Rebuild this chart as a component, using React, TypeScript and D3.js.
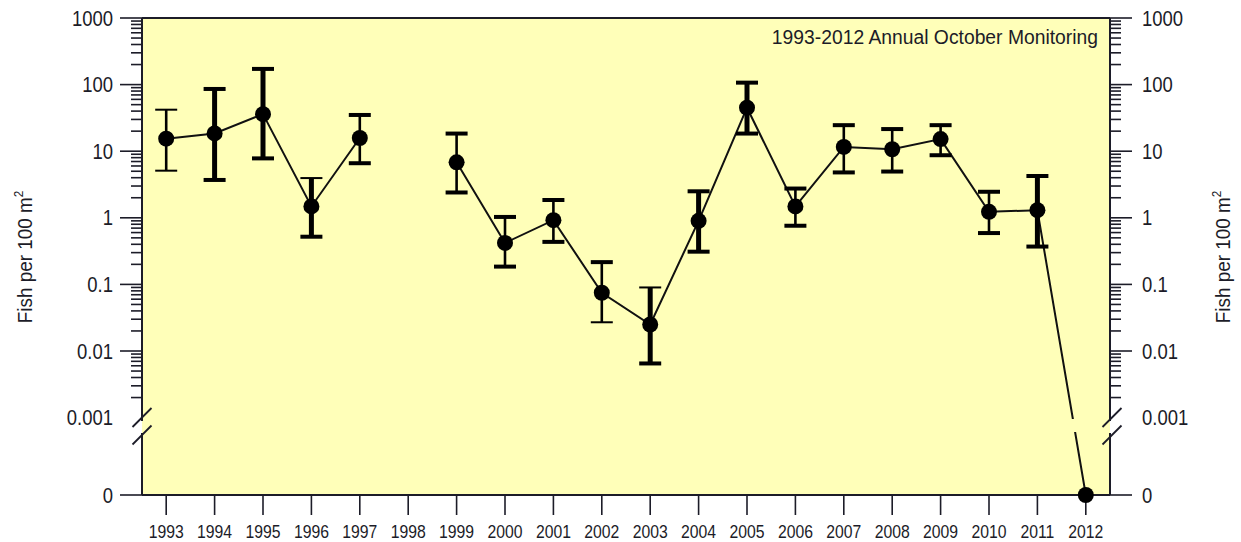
import React from "react";
import * as d3 from "d3";

const years = [1993, 1994, 1995, 1996, 1997, 1998, 1999, 2000, 2001, 2002, 2003, 2004, 2005, 2006, 2007, 2008, 2009, 2010, 2011, 2012];
const means: (number | null)[] = [15.4, 18.5, 36, 1.48, 15.8, null, 6.8, 0.42, 0.92, 0.075, 0.025, 0.9, 45, 1.48, 11.6, 10.7, 15.2, 1.23, 1.3, 0];
const upper: (number | null)[] = [42, 86, 172, 3.95, 35, null, 18.4, 1.03, 1.85, 0.216, 0.09, 2.5, 107, 2.75, 24.6, 21.5, 24.6, 2.46, 4.24, null];
const lower: (number | null)[] = [5.1, 3.7, 7.8, 0.52, 6.6, null, 2.4, 0.185, 0.435, 0.027, 0.0065, 0.31, 18.4, 0.76, 4.8, 4.95, 8.7, 0.59, 0.37, null];

const yTickValues = [1000, 100, 10, 1, 0.1, 0.01];
const yTickLabels = ["1000", "100", "10", "1", "0.1", "0.01"];
const breakLabel = "0.001";
const zeroLabel = "0";
const heavyStems = [1994, 1995, 1996, 2003, 2004, 2005, 2011];
const lightTopCaps = [1993, 1996, 2003];
const lightBottomCaps = [1993, 2002];
const title = "1993-2012 Annual October Monitoring";
const yAxisTitle = "Fish per 100 m";

const FONT = "'Liberation Sans', Arial, sans-serif";
const INK = "#1c1c28";

function T(props: {
  x: number; y: number; sx: number; rot?: number; size: number;
  anchor?: string; baseline?: string; children: React.ReactNode;
}) {
  const { x, y, sx, rot = 0, size, anchor = "start", baseline, children } = props;
  return (
    <text
      transform={`translate(${x},${y}) rotate(${rot}) scale(${sx},1)`}
      fontFamily={FONT}
      fontSize={size}
      fill={INK}
      textAnchor={anchor}
      dominantBaseline={baseline}
    >
      {children}
    </text>
  );
}

export default function App() {
  const W = 1241, H = 542;
  const left = 142, right = 1110, top = 18, zeroY = 495;
  const breakTop = 421, breakBot = 433;

  const x = d3.scalePoint<number>().domain(years).range([left, right]).padding(0.5);
  const y = d3.scaleLog().domain([0.001, 1000]).range([417.6, top]);
  const yv = (v: number) => (v === 0 ? zeroY : y(v));

  const minorTicks: number[] = [];
  for (const d of [0.001, 0.01, 0.1, 1, 10, 100]) {
    for (let k = 2; k <= 9; k++) minorTicks.push(d * k);
  }

  const pts = years.map((yr, i) => ({ yr, m: means[i], hi: upper[i], lo: lower[i] }));
  const line = d3
    .line<{ yr: number; m: number | null }>()
    .defined((d) => d.m !== null)
    .x((d) => x(d.yr) as number)
    .y((d) => yv(d.m as number));

  const slash = (cx: number, cy: number) => (
    <line x1={cx - 9.5} y1={cy + 9.5} x2={cx + 9.5} y2={cy - 9.5} stroke={INK} strokeWidth={1.8} />
  );

  const ySX = 0.84;

  return (
    <svg width={W} height={H} style={{ position: "absolute", left: 0, top: 0, background: "#fff" }}>
      <defs>
        <clipPath id="brk">
          <rect x={0} y={0} width={W} height={419} />
          <rect x={0} y={432} width={W} height={H - 432} />
        </clipPath>
      </defs>
      <rect x={left} y={top} width={right - left} height={zeroY - top} fill="#FFFFB9" />

      {/* frame */}
      <g stroke={INK} strokeWidth={2} fill="none">
        <line x1={left} y1={top} x2={right} y2={top} />
        <line x1={left} y1={zeroY} x2={right} y2={zeroY} />
        <line x1={left} y1={top} x2={left} y2={breakTop} />
        <line x1={left} y1={breakBot} x2={left} y2={zeroY} />
        <line x1={right} y1={top} x2={right} y2={breakTop} />
        <line x1={right} y1={breakBot} x2={right} y2={zeroY} />
      </g>

      {/* y ticks */}
      <g stroke={INK} strokeWidth={1.6}>
        {yTickValues.map((v) => (
          <g key={"M" + v}>
            <line x1={left - 22} x2={left} y1={y(v)} y2={y(v)} />
            <line x1={right} x2={right + 22} y1={y(v)} y2={y(v)} />
          </g>
        ))}
        <line x1={left - 22} x2={left} y1={zeroY} y2={zeroY} />
        <line x1={right} x2={right + 22} y1={zeroY} y2={zeroY} />
        {minorTicks.map((v) => (
          <g key={"m" + v}>
            <line x1={left - 11} x2={left} y1={y(v)} y2={y(v)} />
            <line x1={right} x2={right + 11} y1={y(v)} y2={y(v)} />
          </g>
        ))}
      </g>

      {/* axis breaks */}
      {slash(left, 417.5)}
      {slash(left, 435)}
      {slash(right + 2, 417.5)}
      {slash(right + 2, 435)}

      {/* y labels */}
      {yTickValues.map((v, i) => (
        <g key={"L" + v}>
          <T x={113} y={y(v)} sx={ySX} size={22} anchor="end" baseline="central">{yTickLabels[i]}</T>
          <T x={1142} y={y(v)} sx={ySX} size={22} anchor="start" baseline="central">{yTickLabels[i]}</T>
        </g>
      ))}
      <T x={113} y={y(0.001)} sx={ySX} size={22} anchor="end" baseline="central">{breakLabel}</T>
      <T x={1142} y={y(0.001)} sx={ySX} size={22} anchor="start" baseline="central">{breakLabel}</T>
      <T x={113} y={zeroY} sx={ySX} size={22} anchor="end" baseline="central">{zeroLabel}</T>
      <T x={1142} y={zeroY} sx={ySX} size={22} anchor="start" baseline="central">{zeroLabel}</T>

      {/* x ticks and labels */}
      <g stroke={INK} strokeWidth={1.6}>
        {years.map((yr) => (
          <line key={"xt" + yr} x1={x(yr)} x2={x(yr)} y1={zeroY} y2={zeroY + 20} />
        ))}
      </g>
      {years.map((yr) => (
        <T key={"xl" + yr} x={x(yr) as number} y={538} sx={0.83} size={19} anchor="middle">{yr}</T>
      ))}

      {/* axis titles */}
      <T x={32} y={257} rot={-90} sx={0.9} size={21} anchor="middle">
        {yAxisTitle}
        <tspan fontSize={13} dy={-9}>2</tspan>
      </T>
      <T x={1230} y={257} rot={-90} sx={0.9} size={21} anchor="middle">
        {yAxisTitle}
        <tspan fontSize={13} dy={-9}>2</tspan>
      </T>

      {/* title */}
      <T x={1098} y={44} sx={0.92} size={21} anchor="end">{title}</T>

      {/* data line */}
      <path d={line(pts) || ""} fill="none" stroke="#111" strokeWidth={2} clipPath="url(#brk)" />

      {/* error bars */}
      <g stroke="#000" fill="none">
        {pts
          .filter((p) => p.hi !== null && p.lo !== null)
          .map((p) => {
            const cx = x(p.yr) as number;
            const yh = y(p.hi as number), yl = y(p.lo as number);
            const sw = heavyStems.includes(p.yr) ? 5 : 2.6;
            const tw = lightTopCaps.includes(p.yr) ? 2 : 4;
            const bw = lightBottomCaps.includes(p.yr) ? 2 : 4;
            return (
              <g key={"eb" + p.yr}>
                <line x1={cx} x2={cx} y1={yh} y2={yl} strokeWidth={sw} />
                <line x1={cx - 11} x2={cx + 11} y1={yh} y2={yh} strokeWidth={tw} />
                <line x1={cx - 11} x2={cx + 11} y1={yl} y2={yl} strokeWidth={bw} />
              </g>
            );
          })}
      </g>

      {/* points */}
      <g fill="#000">
        {pts
          .filter((p) => p.m !== null)
          .map((p) => (
            <circle key={"pt" + p.yr} cx={x(p.yr) as number} cy={yv(p.m as number)} r={8} />
          ))}
      </g>
    </svg>
  );
}
